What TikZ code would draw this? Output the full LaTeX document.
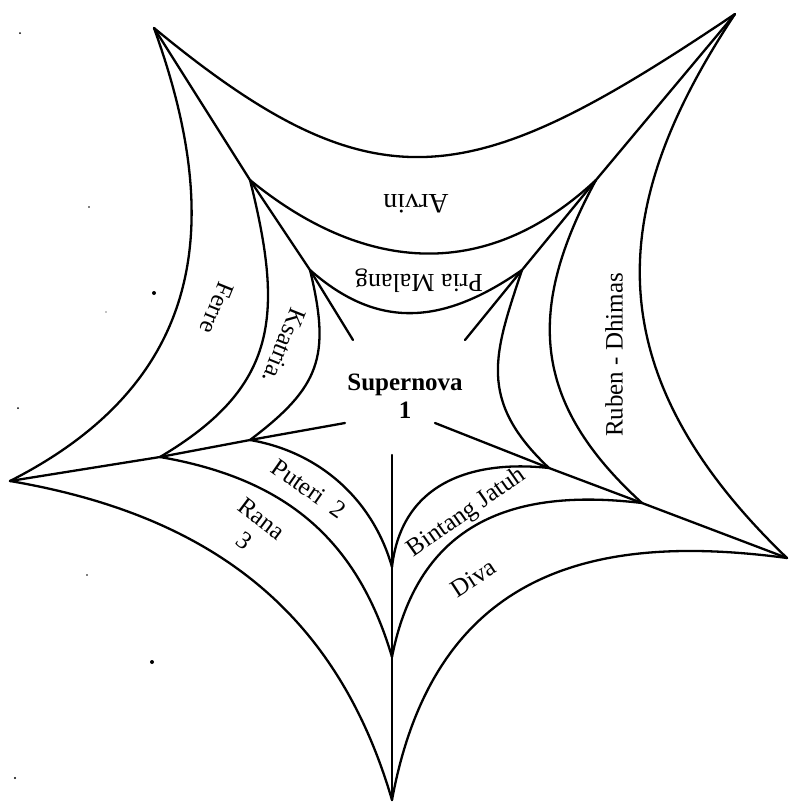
\documentclass[tikz,border=0pt]{standalone}
\usepackage{fontspec}
\setmainfont{Liberation Serif}

\tikzset{
  web/.style={line width=2.3pt},
  lbl/.style={font=\fontsize{25}{28}\selectfont, inner sep=0pt}
}

\begin{document}
\begin{tikzpicture}[x=1pt,y=-1pt,line cap=round,line join=round]
  \useasboundingbox (0,0) rectangle (789,803);
  % tips of the three stars and the free spoke ends
  \coordinate (oTL) at (154,28);  \coordinate (oTR) at (735,14);
  \coordinate (oR)  at (787,558); \coordinate (oB)  at (392,800);
  \coordinate (oL)  at (10,481);
  \coordinate (mTL) at (250,180); \coordinate (mTR) at (596,180);
  \coordinate (mR)  at (642,503); \coordinate (mB)  at (392,657);
  \coordinate (mL)  at (160,457);
  \coordinate (iTL) at (310,270); \coordinate (iTR) at (522,270);
  \coordinate (iR)  at (549,468); \coordinate (iB)  at (392,567);
  \coordinate (iL)  at (250,440);
  \coordinate (sTL) at (353,340); \coordinate (sTR) at (465,340);
  \coordinate (sR)  at (435,423); \coordinate (sB)  at (392,455);
  \coordinate (sL)  at (345,423);
  % spokes
  \foreach \a/\b/\c/\d in {oTL/mTL/iTL/sTL,oTR/mTR/iTR/sTR,oR/mR/iR/sR,oB/mB/iB/sB,oL/mL/iL/sL} {
    \draw[web] (\a) -- (\b) -- (\c) -- (\d);
  }
  % outer star
  \draw[web] (oTL) .. controls (378,213) and (472,191) .. (oTR);
  \draw[web] (oTR) .. controls (616,194) and (583,362) .. (oR);
  \draw[web] (oR) .. controls (599,533) and (435,566) .. (oB);
  \draw[web] (oB) .. controls (335,605) and (203,514) .. (oL);
  \draw[web] (oL) .. controls (211,379) and (222,216) .. (oTL);
  % middle star
  \draw[web] (mTL) .. controls (350,262) and (475,293) .. (mTR);
  \draw[web] (mTR) .. controls (526,309) and (531,402) .. (mR);
  \draw[web] (mR) .. controls (524,489) and (420,514) .. (mB);
  \draw[web] (mB) .. controls (356,535) and (281,478) .. (mL);
  \draw[web] (mL) .. controls (278,387) and (284,316) .. (mTL);
  % inner star
  \draw[web] (iTL) .. controls (378,330) and (443,325) .. (iTR);
  \draw[web] (iTR) .. controls (494,354) and (477,400) .. (iR);
  \draw[web] (iR) .. controls (476,460) and (402,480) .. (iB);
  \draw[web] (iB) .. controls (373,500) and (320,452) .. (iL);
  \draw[web] (iL) .. controls (320,387) and (331,357) .. (iTL);
  % labels
  \node[lbl, font=\fontsize{28}{30}\selectfont, rotate=180] (arvin) at (416,204) {Arvin};
  \node[lbl, font=\fontsize{26}{28}\selectfont, rotate=180] (pria) at (419,281) {Pria Malang};
  \node[lbl, rotate=-112] (ferre) at (217,308) {Ferre};
  \node[lbl, rotate=-112] (ksatria) at (284,346) {Ksatria.};
  \node[lbl, rotate=90] (ruben) at (614,355) {Ruben - Dhimas};
  \node[lbl, font=\fontsize{25}{28}\selectfont\bfseries, align=center] (supernova) at (405,396) {Supernova\\1};
  \node[lbl, rotate=-35] (puteri) at (309,489) {Puteri\enspace 2};
  \node[lbl, rotate=-37, align=center] (rana) at (253,530) {Rana\\3};
  \node[lbl, rotate=35] (bintang) at (467,513) {Bintang Jatuh};
  \node[lbl, rotate=33] (diva) at (473,578) {Diva};
  % specks
  \foreach \x/\y/\r in {20/33/1,89/207/0.8,154/293/2,106/312/0.6,18/408/1,87/575/0.8,152/662/2,15/778/1.2} {
    \fill (\x,\y) circle (\r pt);
  }
\end{tikzpicture}
\end{document}
